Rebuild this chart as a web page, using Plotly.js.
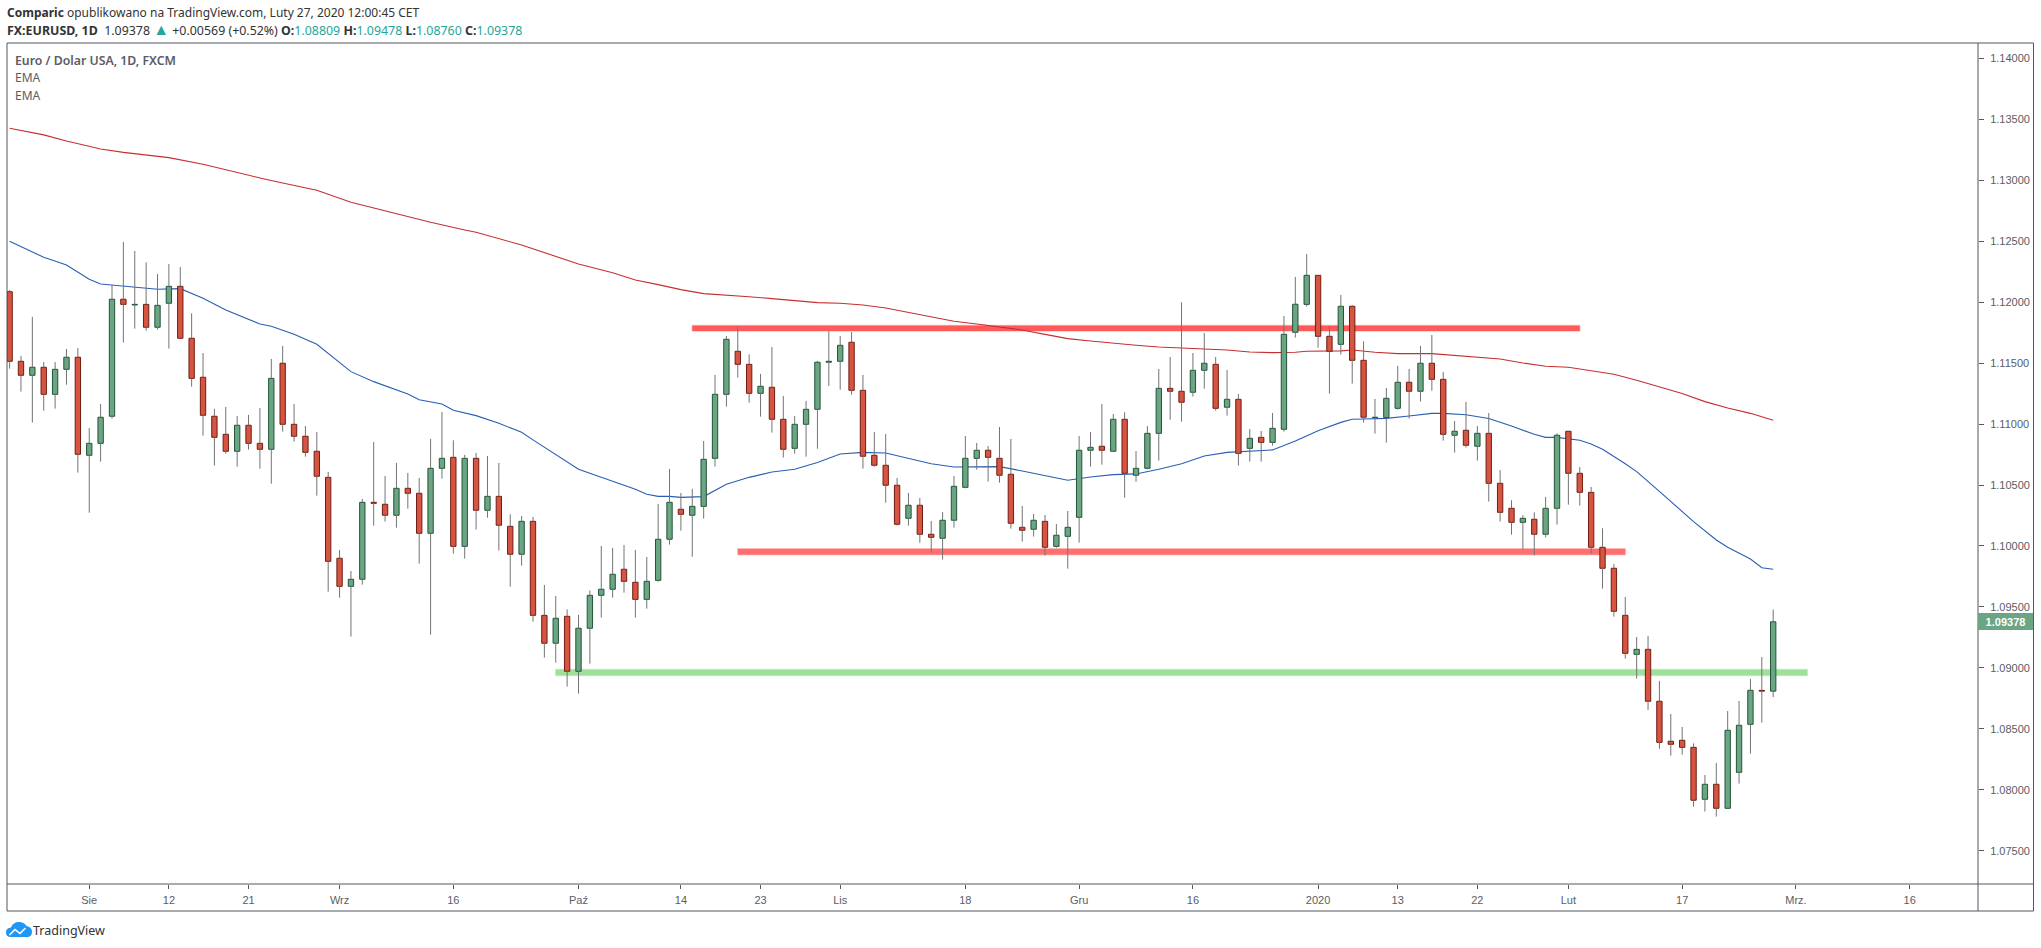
<!DOCTYPE html>
<html><head><meta charset="utf-8">
<script src="https://cdn.plot.ly/plotly-3.0.1.min.js"></script>
<style>html,body{margin:0;padding:0;background:#fff}#c{width:2041px;height:948px}</style>
</head><body><div id="c"></div>
<script>
const opens=[1.12086,1.11515,1.11400,1.11466,1.11244,1.11449,1.11548,1.10744,1.10842,1.11064,
1.12024,1.11977,1.11982,1.11794,1.11991,1.12130,1.11704,1.11384,1.11064,1.10916,
1.10777,1.10990,1.10842,1.10793,1.11499,1.10998,1.10900,1.10777,1.10563,1.09899,
1.09669,1.09727,1.10358,1.10342,1.10252,1.10473,1.10432,1.10104,1.10637,1.10727,
1.09997,1.10719,1.10293,1.10407,1.10161,1.09932,1.10202,1.09431,1.09202,1.09423,
1.08972,1.09325,1.09595,1.09645,1.09809,1.09702,1.09562,1.09718,1.10055,1.10301,
1.10252,1.10325,1.10719,1.11244,1.11597,1.11490,1.11252,1.11302,1.11039,1.10801,
1.10998,1.11121,1.11507,1.11515,1.11671,1.11277,1.10744,1.10662,1.10498,1.10227,
1.10334,1.10096,1.10063,1.10211,1.10481,1.10719,1.10785,1.10719,1.10588,1.10153,
1.10137,1.10202,1.09997,1.10079,1.10235,1.10785,1.10818,1.10777,1.11039,1.10580,
1.10637,1.10924,1.11293,1.11269,1.11261,1.11441,1.11490,1.11138,1.11203,1.10801,
1.10891,1.10850,1.10957,1.11753,1.11982,1.12220,1.11720,1.11654,1.11966,1.11523,
1.11053,1.11053,1.11129,1.11343,1.11269,1.11499,1.11367,1.10908,1.10949,1.10818,
1.10924,1.10514,1.10309,1.10194,1.10219,1.10096,1.10309,1.10941,1.10596,1.10440,
1.09989,1.09817,1.09431,1.09111,1.09152,1.08726,1.08398,1.08406,1.08348,1.07922,
1.08045,1.07848,1.08143,1.08537,1.08815,1.08809];
const closes=[1.11515,1.11400,1.11466,1.11244,1.11449,1.11548,1.10752,1.10842,1.11056,1.12024,
1.11982,1.11982,1.11794,1.11974,1.12130,1.11704,1.11375,1.11072,1.10891,1.10777,
1.10990,1.10842,1.10793,1.11375,1.10998,1.10900,1.10768,1.10572,1.09874,1.09669,
1.09727,1.10358,1.10350,1.10252,1.10473,1.10432,1.10104,1.10637,1.10719,1.09997,
1.10719,1.10293,1.10407,1.10170,1.09932,1.10202,1.09431,1.09202,1.09407,1.08972,
1.09325,1.09595,1.09645,1.09768,1.09710,1.09562,1.09710,1.10055,1.10358,1.10260,
1.10325,1.10711,1.11244,1.11695,1.11490,1.11252,1.11310,1.11039,1.10793,1.10998,
1.11121,1.11507,1.11515,1.11646,1.11277,1.10736,1.10662,1.10498,1.10178,1.10334,
1.10096,1.10071,1.10211,1.10489,1.10719,1.10785,1.10727,1.10580,1.10186,1.10129,
1.10211,1.09989,1.10088,1.10153,1.10785,1.10809,1.10785,1.11039,1.10596,1.10637,
1.10924,1.11293,1.11269,1.11179,1.11441,1.11499,1.11129,1.11203,1.10760,1.10883,
1.10850,1.10965,1.11736,1.11983,1.12220,1.11720,1.11597,1.11966,1.11523,1.11056,
1.11056,1.11211,1.11343,1.11269,1.11499,1.11367,1.10916,1.10941,1.10826,1.10924,
1.10514,1.10276,1.10194,1.10227,1.10096,1.10309,1.10908,1.10596,1.10440,1.09989,
1.09817,1.09464,1.09119,1.09152,1.08726,1.08389,1.08373,1.08348,1.07914,1.08045,
1.07848,1.08488,1.08529,1.08816,1.08809,1.09378];
const highs=[1.12100,1.11559,1.11879,1.11509,1.11509,1.11616,1.11624,1.10968,1.11165,1.12141,
1.12494,1.12420,1.12327,1.12231,1.12313,1.12289,1.11909,1.11583,1.11124,1.11140,
1.11066,1.11075,1.11132,1.11534,1.11641,1.11165,1.10984,1.10935,1.10607,1.09967,
1.09795,1.10386,1.10853,1.10574,1.10681,1.10599,1.10558,1.10878,1.11099,1.10867,
1.10747,1.10763,1.10738,1.10681,1.10260,1.10246,1.10238,1.09680,1.09590,1.09480,
1.09434,1.09636,1.10000,1.09984,1.10008,1.09967,1.09910,1.10345,1.10632,1.10435,
1.10468,1.10861,1.11403,1.11723,1.11797,1.11572,1.11411,1.11632,1.11231,1.11066,
1.11190,1.11518,1.11764,1.11723,1.11756,1.11403,1.10935,1.10919,1.10558,1.10435,
1.10394,1.10205,1.10279,1.10574,1.10902,1.10845,1.10820,1.10976,1.10878,1.10328,
1.10263,1.10254,1.10180,1.10287,1.10902,1.10935,1.11165,1.11083,1.11097,1.10779,
1.10984,1.11452,1.11550,1.11999,1.11583,1.11747,1.11550,1.11444,1.11247,1.10960,
1.10943,1.11091,1.11887,1.12207,1.12395,1.12220,1.11805,1.12059,1.11977,1.11679,
1.11206,1.11296,1.11477,1.11452,1.11641,1.11731,1.11427,1.11025,1.11181,1.10984,
1.11091,1.10623,1.10375,1.10252,1.10276,1.10402,1.10924,1.10941,1.10648,1.10484,
1.10145,1.09852,1.09582,1.09253,1.09262,1.08893,1.08622,1.08515,1.08381,1.08121,
1.08220,1.08646,1.08728,1.08909,1.09089,1.09478];
const lows=[1.11455,1.11266,1.11012,1.11110,1.11127,1.11323,1.10602,1.10273,1.10692,1.11045,
1.11668,1.11783,1.11766,1.11775,1.11619,1.11704,1.11307,1.10905,1.10659,1.10757,
1.10651,1.10790,1.10634,1.10511,1.10938,1.10856,1.10733,1.10413,1.09625,1.09576,
1.09256,1.09683,1.10167,1.10200,1.10150,1.10306,1.09855,1.09273,1.10552,1.09937,
1.09896,1.10134,1.10232,1.09962,1.09666,1.09839,1.09379,1.09084,1.09043,1.08846,
1.08789,1.09035,1.09412,1.09576,1.09617,1.09412,1.09486,1.09707,1.10011,1.10126,
1.09912,1.10224,1.10651,1.11143,1.11381,1.11176,1.11061,1.10930,1.10725,1.10757,
1.10733,1.10798,1.11313,1.11282,1.11241,1.10634,1.10651,1.10355,1.10167,1.10167,
1.10027,1.09945,1.09888,1.10150,1.10473,1.10626,1.10528,1.10520,1.10142,1.10036,
1.10077,1.09921,1.09986,1.09814,1.10027,1.10651,1.10667,1.10777,1.10396,1.10528,
1.10629,1.10700,1.11036,1.11020,1.11225,1.11291,1.11110,1.11069,1.10659,1.10692,
1.10692,1.10823,1.10938,1.11709,1.11963,1.11627,1.11250,1.11570,1.11332,1.11012,
1.10922,1.10848,1.11118,1.11045,1.11184,1.11274,1.10864,1.10766,1.10807,1.10700,
1.10364,1.10200,1.10093,1.09973,1.09921,1.10071,1.10175,1.10339,1.10331,1.09937,
1.09650,1.09420,1.09076,1.08912,1.08655,1.08337,1.08280,1.08288,1.07862,1.07821,
1.07780,1.07848,1.08050,1.08296,1.08551,1.08760];

const emaSlowBars=[0,3,5,8,10,12,14,17,19,22,24,27,30,33,35,37,40,41,45,47,50,53,55,57,59,61,63,65,67,69,71,73,75,77,79,81,83,85,87,89,91,93,95,97,99,101,103,105,107,109,111,113,114,117,118,120,122,125,128,131,133,135,137,139,141,143,145,147,149,151,153,155];
const emaSlow=[1.13426,1.13372,1.13322,1.13257,1.13229,1.13205,1.13186,1.13131,1.13085,1.13019,1.12978,1.12918,1.12819,1.12748,1.12707,1.12655,1.12592,1.12573,1.12469,1.12409,1.12313,1.12242,1.12182,1.12144,1.12103,1.12070,1.12059,1.12045,1.12029,1.12010,1.11996,1.11991,1.11977,1.11952,1.11917,1.11876,1.11843,1.11821,1.11799,1.11772,1.11736,1.11701,1.11682,1.11663,1.11646,1.11632,1.11622,1.11616,1.11608,1.11591,1.11586,1.11589,1.11597,1.11600,1.11608,1.11589,1.11578,1.11578,1.11553,1.11534,1.11501,1.11474,1.11466,1.11438,1.11408,1.11359,1.11304,1.11250,1.11184,1.11132,1.11088,1.11031];
const emaFastBars=[0,2,3,5,7,8,10,12,13,15,17,19,21,22,23,25,27,28,30,32,34,35,36,38,39,41,43,45,46,47,48,50,52,55,56,57,58,59,61,63,65,67,69,71,73,75,77,79,81,83,85,87,89,91,93,95,97,99,101,103,105,107,109,111,113,115,117,118,119,121,123,125,126,128,130,132,134,135,136,138,139,140,142,143,145,148,150,151,153,154,155];
const emaFast=[1.12499,1.12415,1.12368,1.12305,1.12188,1.12149,1.12133,1.12116,1.12106,1.12111,1.12032,1.11936,1.11859,1.11821,1.11802,1.11736,1.11654,1.11581,1.11430,1.11348,1.11282,1.11247,1.11200,1.11165,1.11113,1.11069,1.11006,1.10932,1.10870,1.10809,1.10747,1.10629,1.10563,1.10465,1.10424,1.10407,1.10407,1.10399,1.10405,1.10506,1.10563,1.10607,1.10629,1.10684,1.10755,1.10768,1.10763,1.10722,1.10675,1.10648,1.10651,1.10651,1.10615,1.10577,1.10539,1.10566,1.10585,1.10591,1.10629,1.10675,1.10738,1.10768,1.10777,1.10788,1.10861,1.10946,1.11014,1.11039,1.11042,1.11047,1.11066,1.11088,1.11088,1.11077,1.11045,1.10984,1.10916,1.10891,1.10891,1.10867,1.10837,1.10793,1.10675,1.10610,1.10448,1.10200,1.10049,1.09989,1.09893,1.09822,1.09809];

const tickBars=[7,14,21,29,39,50,59,66,73,84,94,104,115,122,129,137,147,157,167];
const tickLabels=['Sie','12','21','Wrz','16','Paź','14','23','Lis','18','Gru','16','2020','13','22','Lut','17','Mrz.','16'];
const priceTicks=[1.075,1.08,1.085,1.09,1.095,1.10,1.105,1.11,1.115,1.12,1.125,1.13,1.135,1.14];
const zoneLevels=[1.11786,1.09953,1.08961];
const zoneStart=[60,64,48];
const zoneEnd=[138,142,158];
const zoneColors=['#ff5a5a','#ff6f6f','#9fe09a'];
const zoneEdges=['#ffc9c9','#ffd0d0','#d5f2d2'];
const zoneCore=[5.5,6,6];

const W=2041,H=948,L=7,R=1978.5,RE=2034,T=43,B=884;
const XR=[-0.228,173.0], YR=[1.07227,1.14126];
const px=x=>(x-L)/(R-L), py=y=>(B-y)/(B-T);
const GRAY='#5a5d66', LINE='#555760', TEAL='#26a69a';
const FONT='Noto Sans';
const AXF='Liberation Sans';

const bars=opens.map((_,i)=>i);
const up=bars.filter(i=>closes[i]>=opens[i]), dn=bars.filter(i=>closes[i]<opens[i]);
const wx=[],wy=[];
bars.forEach(i=>{const t=Math.max(opens[i],closes[i]),b=Math.min(opens[i],closes[i]);
  wx.push(i,i,null,i,i,null); wy.push(highs[i],t,null,b,lows[i],null);});
const body=(idx,fill,line)=>({type:'bar',x:idx,base:idx.map(i=>Math.min(opens[i],closes[i])),
  y:idx.map(i=>Math.abs(closes[i]-opens[i])),width:0.47,xaxis:'x2',yaxis:'y2',
  marker:{color:fill,line:{color:line,width:1}},hoverinfo:'skip',showlegend:false});
const traces=[
 {type:'scatter',mode:'lines',x:emaSlowBars,y:emaSlow,line:{color:'#c62f30',width:1.1},showlegend:false,hoverinfo:'skip'},
 {type:'scatter',mode:'lines',x:emaFastBars,y:emaFast,line:{color:'#2a5eb4',width:1.1},showlegend:false,hoverinfo:'skip'},
 body(up,'#6ba583','#225437'),
 body(dn,'#d75442','#6f1d12'),
 {type:'scatter',mode:'lines',x:wx,y:wy,connectgaps:false,xaxis:'x2',yaxis:'y2',line:{color:'#737375',width:1},showlegend:false,hoverinfo:'skip'}
];

const shapes=[];
zoneLevels.forEach((v,k)=>{
  shapes.push({type:'line',layer:'below',xref:'x',yref:'y',x0:zoneStart[k]-0.07,x1:zoneEnd[k]+0.07,y0:v,y1:v,line:{color:zoneEdges[k],width:zoneCore[k]+1.5}});
  shapes.push({type:'line',layer:'below',xref:'x',yref:'y',x0:zoneStart[k],x1:zoneEnd[k],y0:v,y1:v,line:{color:zoneColors[k],width:zoneCore[k]}});
});
const seg=(x0,y0,x1,y1,c)=>shapes.push({type:'line',xref:'paper',yref:'paper',x0:px(x0),x1:px(x1),y0:py(y0),y1:py(y1),line:{color:c||LINE,width:1}});
seg(L,T,RE,T); seg(RE,T,RE,911); seg(L,911,RE,911); seg(L,T,L,911); seg(R,T,R,911); seg(L,B,RE,B);
const path=(s)=>s.replace(/(-?[\d.]+) (-?[\d.]+)/g,(m,a,b)=>px(+a)+' '+py(+b));
shapes.push({type:'path',xref:'paper',yref:'paper',path:path('M11 937 Q6 937 6 932.5 Q6 928 11 927.5 Q13 922 19 922 Q24 922 26.5 926 Q32 927 32 932 Q32 937 27 937 Z'),fillcolor:'#2196f3',line:{width:0}});
shapes.push({type:'path',xref:'paper',yref:'paper',path:path('M9.5 935 L15 929.5 L20 933.5 L25.5 928'),line:{color:'#ffffff',width:1.6}});
shapes.push({type:'line',xref:'paper',yref:'y',x0:px(R),x1:px(R+5),y0:closes[closes.length-1],y1:closes[closes.length-1],line:{color:'#ffffff',width:1}});

const note=(x,y,text,o)=>Object.assign({xref:'paper',yref:'paper',x:px(x),y:py(y),text,showarrow:false,xanchor:'left',yanchor:'middle',align:'left',font:{family:FONT,size:12.4,color:'#333'}},o||{});
const v=t=>'<span style="color:'+TEAL+'">'+t+'</span>';
const annotations=[
 note(5,12.5,'<b>Comparic</b> opublikowano na TradingView.com, Luty 27, 2020 12:00:45 CET',{font:{family:FONT,size:12,color:'#333'}}),
 note(5,29.5,'<b>FX:EURUSD, 1D</b>  1.09378 <span style="color:'+TEAL+';font-size:16px">▲</span> +0.00569 (+0.52%) <b>O:</b>'+v('1.08809')+' <b>H:</b>'+v('1.09478')+' <b>L:</b>'+v('1.08760')+' <b>C:</b>'+v('1.09378')),
 note(13,61,'Euro / Dolar USA, 1D, FXCM',{font:{family:FONT,size:12.3,color:GRAY,weight:600}}),
 note(13,78,'EMA',{font:{family:FONT,size:12,color:GRAY}}),
 note(13,95,'EMA',{font:{family:FONT,size:12,color:GRAY}}),
 note(31,930,'TradingView',{font:{family:FONT,size:12.5,color:'#333'}}),
 {xref:'paper',yref:'y',x:px(R),y:closes[closes.length-1],xanchor:'left',yanchor:'middle',showarrow:false,text:'<b>'+closes[closes.length-1].toFixed(5)+'</b>',
  bgcolor:'#6ba583',width:55,height:17,borderpad:0,borderwidth:0,align:'center',font:{family:AXF,size:11,color:'#fff'}}
];

const layout={
 width:W,height:H,paper_bgcolor:'#fff',plot_bgcolor:'#fff',showlegend:false,barmode:'overlay',
 margin:{l:L,r:W-R,t:T,b:H-B,pad:0},
 xaxis:{range:XR,type:'linear',showgrid:false,zeroline:false,tickmode:'array',tickvals:tickBars,ticktext:tickLabels,ticks:'outside',ticklen:4,tickcolor:LINE,tickwidth:1,showline:false,ticklabelstandoff:2,tickangle:0,
   tickfont:{family:AXF,size:11,color:GRAY}},
 yaxis:{range:YR,type:'linear',side:'right',showgrid:false,zeroline:false,tickmode:'array',tickvals:priceTicks,ticktext:priceTicks.map(p=>p.toFixed(5)),ticks:'outside',ticklen:5,tickcolor:LINE,tickwidth:1,showline:false,ticklabelstandoff:4,
   tickfont:{family:AXF,size:11,color:GRAY}},
 xaxis2:{range:XR,type:'linear',overlaying:'x',visible:false,showgrid:false,zeroline:false},
 yaxis2:{range:YR,type:'linear',overlaying:'y',visible:false,showgrid:false,zeroline:false,side:'right'},
 shapes,annotations
};
Plotly.newPlot('c',traces,layout,{displayModeBar:false,staticPlot:true});
</script></body></html>
